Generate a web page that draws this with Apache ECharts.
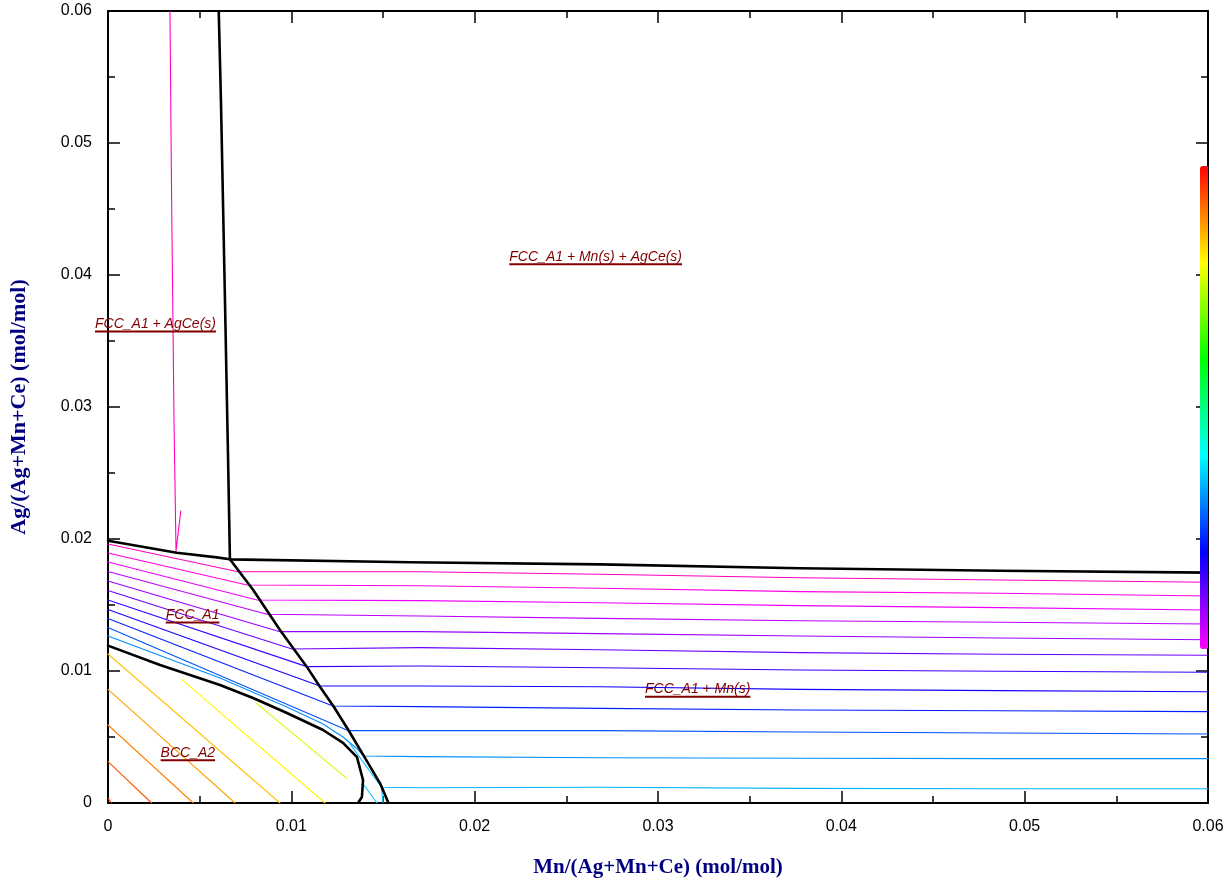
<!DOCTYPE html>
<html><head><meta charset="utf-8">
<script src="https://cdn.jsdelivr.net/npm/echarts@6/dist/echarts.min.js"></script>
<style>html,body{margin:0;padding:0;background:#fff}#c{width:1229px;height:879px}</style>
</head><body><div id="c"></div>
<script>
// ---------- axes ----------
const xAxisName = 'Mn/(Ag+Mn+Ce) (mol/mol)';
const yAxisName = 'Ag/(Ag+Mn+Ce) (mol/mol)';
const axisMin = 0, axisMax = 0.06, axisStep = 0.01;

// ---------- phase boundaries (black) ----------
const boundaryFccAgCe = [[0.00604,0.06],[0.00616,0.05326],[0.00638,0.03811],[0.00654,0.02674],[0.00665,0.01846]];
const boundaryFccTop = [[0,0.01987],[0.00375,0.01896],[0.00593,0.01861],[0.00665,0.01846],[0.01647,0.01824],[0.02683,0.01808],[0.03774,0.01778],[0.04865,0.01760],[0.06,0.01745]];
const boundaryFccMn = [[0.00665,0.01846],[0.00792,0.01614],[0.00938,0.01311],[0.01084,0.01033],[0.01156,0.00881],[0.01229,0.00735],[0.01311,0.00553],[0.01392,0.00364],[0.01484,0.00149],[0.0153,0]];
const boundaryBcc = [[0,0.01192],[0.00284,0.01045],[0.00611,0.00894],[0.00791,0.00795],[0.00976,0.00682],[0.01173,0.00553],[0.01282,0.00455],[0.01358,0.00348],[0.01391,0.00174],[0.01385,0.00045],[0.01364,0]];

// ---------- iso-lines through FCC_A1 and FCC_A1 + Mn(s) ----------
const fccLeftY = [0.01962,0.01894,0.01826,0.01754,0.01682,0.01610,0.01538,0.01466,0.01398,0.01330];
const tieX = [0.00709,0.00758,0.00813,0.00867,0.00938,0.01004,0.01084,0.01156,0.01227,0.01312,0.01396,0.01492];
const tieY = [0.01752,0.01652,0.01538,0.01430,0.01298,0.01167,0.01033,0.00886,0.00735,0.00548,0.00356,0.00119];
const mnRegionX = [0.01702,0.02683,0.03774,0.04865,0.06];
const mnRegionY = [
  [0.01752,0.01733,0.01707,0.01689,0.01672],
  [0.01646,0.01627,0.01601,0.01589,0.01568],
  [0.01533,0.01517,0.01495,0.01480,0.01462],
  [0.01417,0.01399,0.01381,0.01369,0.01356],
  [0.01298,0.01283,0.01265,0.01250,0.01237],
  [0.01177,0.01161,0.01139,0.01127,0.01119],
  [0.01038,0.01025,0.01008,0.00998,0.00990],
  [0.00886,0.00881,0.00861,0.00851,0.00843],
  [0.00730,0.00717,0.00705,0.00699,0.00692],
  [0.00548,0.00548,0.00538,0.00530,0.00523],
  [0.00351,0.00343,0.00339,0.00336,0.00336],
  [0.00116,0.00119,0.00111,0.00108,0.00108]
];
const fccLevels = [-0.053,-0.023,0.013,0.05,0.077,0.113,0.153,0.183,0.227,0.263,0.313,0.343];
const bccFollowLine = [[0,0.01265],[0.00611,0.00947],[0.00976,0.00727],[0.01173,0.00599],[0.01282,0.00500],[0.01353,0.00417]];
const lowerTail = [[0.01320,0.00447]];
const lowerStub = [[0.01492,0.00119],[0.01500,0]];
const cyanLine = [[0.01396,0.00136],[0.01467,0]];
const cyanLevel = 0.36;

// ---------- iso-lines inside BCC_A2 ----------
const bccLines = [
  [[0,0.00036],[0.0002,0]],
  [[0,0.00313],[0.00238,0]],
  [[0,0.00591],[0.00465,0]],
  [[0,0.00861],[0.00693,0]],
  [[0,0.01129],[0.00938,0]],
  [[0.00402,0.00937],[0.01184,0]],
  [[0.00811,0.00755],[0.01302,0.00187]]
];
const bccLevels = [0.973,0.933,0.9,0.873,0.847,0.807,0.76];

// ---------- iso-line in FCC_A1 + AgCe(s) ----------
const agceLine = [[0.00338,0.06],[0.00347,0.04568],[0.00353,0.03811],[0.00360,0.02902],[0.00371,0.01909],[0.00397,0.02212]];
const agceLevel = -0.05;

// ---------- region labels ----------
const labelTexts = ['FCC_A1 + AgCe(s)','FCC_A1 + Mn(s) + AgCe(s)','FCC_A1','BCC_A2','FCC_A1 + Mn(s)'];
const labelX = [-0.00071,0.02189,0.00315,0.00287,0.02929];
const labelY = [0.03629,0.04139,0.01424,0.00381,0.00861];

// ---------- colour scale ----------
const colorbarRange = [0, 1];

function levelColor(l){ let h = 300 - 300*l; h = ((h%360)+360)%360; return 'hsl(' + h.toFixed(1) + ',100%,50%)'; }

const series = [];
function addLine(pts, color, width, z){
  series.push({type:'line', data:pts, showSymbol:false, symbol:'none', silent:true, animation:false,
    lineStyle:{color:color, width:width, cap:'round', join:'round'}, z:z});
}
for (let i=0;i<12;i++){
  let head;
  if (i<10) head = [[0,fccLeftY[i]]];
  else if (i===10) head = bccFollowLine.slice();
  else head = lowerTail.slice();
  const pts = head.concat([[tieX[i],tieY[i]]], mnRegionX.map((x,j)=>[x,mnRegionY[i][j]]));
  addLine(pts, levelColor(fccLevels[i]), 1.1, 2);
}
addLine(lowerStub, levelColor(fccLevels[11]), 1.1, 2);
addLine(cyanLine, levelColor(cyanLevel), 1.1, 2);
bccLines.forEach((l,i)=>addLine(l, levelColor(bccLevels[i]), 1.1, 2));
addLine(agceLine, levelColor(agceLevel), 1.1, 2);
[boundaryFccAgCe, boundaryFccTop, boundaryFccMn, boundaryBcc].forEach(b=>addLine(b,'#000',2.6,3));

const labelFont = 'italic 14px "Liberation Sans", Arial, sans-serif';
const measureCtx = document.createElement('canvas').getContext('2d');
measureCtx.font = labelFont;
series.push({
  type:'custom', silent:true, animation:false, z:5, clip:false,
  data: labelX.map((x,i)=>[x,labelY[i]]),
  renderItem:function(params, api){
    const p = api.coord([api.value(0), api.value(1)]);
    const t = labelTexts[params.dataIndex];
    const w = measureCtx.measureText(t).width;
    return {type:'group', children:[
      {type:'text', x:p[0], y:p[1], style:{text:t, font:labelFont, fill:'#800000', align:'left', verticalAlign:'middle'}},
      {type:'line', shape:{x1:p[0], y1:p[1]+7.5, x2:p[0]+w, y2:p[1]+7.5}, style:{stroke:'#800000', lineWidth:2}}
    ]};
  }
});
series.push({type:'scatter', data:[], silent:true});
const dummyIndex = series.length-1;

const fmt = v => v===0 ? '0' : v.toFixed(2);
const axisCommon = {
  type:'value', min:axisMin, max:axisMax, interval:axisStep,
  axisLine:{show:true, onZero:false, lineStyle:{color:'#000', width:2}},
  axisTick:{show:true, inside:true, length:12, lineStyle:{color:'#000', width:1.5}},
  minorTick:{show:true, splitNumber:2, length:7, lineStyle:{color:'#000', width:1.5}},
  splitLine:{show:false}
};
const labelStyle = {color:'#000', fontSize:16, fontFamily:'"Liberation Sans", Arial, sans-serif', margin:16, formatter:fmt};
const nameStyle = {color:'#000080', fontSize:21, fontWeight:'bold', fontFamily:'"Liberation Serif", "Times New Roman", serif'};
const yNameStyle = Object.assign({}, nameStyle, {fontSize:22});

const option = {
  backgroundColor:'#fff',
  animation:false,
  grid:{left:108, right:21, top:11, bottom:76, containLabel:false, outerBoundsMode:'none'},
  xAxis:[
    Object.assign({}, axisCommon, {position:'bottom', name:xAxisName, nameLocation:'middle', nameGap:54, nameTextStyle:nameStyle, axisLabel:labelStyle}),
    Object.assign({}, axisCommon, {position:'top', axisLabel:{show:false}})
  ],
  yAxis:[
    Object.assign({}, axisCommon, {position:'left', name:yAxisName, nameLocation:'middle', nameGap:78, nameRotate:90, nameTextStyle:yNameStyle, axisLabel:labelStyle}),
    Object.assign({}, axisCommon, {position:'right', axisLabel:{show:false}})
  ],
  visualMap:{
    type:'continuous', min:colorbarRange[0], max:colorbarRange[1], calculable:false, orient:'vertical',
    left:1200, top:166, itemWidth:8, itemHeight:483, padding:0, text:null, showLabel:false,
    seriesIndex:[dummyIndex],
    inRange:{color:['#ff00ff','#0000ff','#00ffff','#00ff00','#ffff00','#ff0000']}
  },
  series:series
};
const chart = echarts.init(document.getElementById('c'), null, {renderer:'canvas'});
chart.setOption(option);
</script></body></html>
